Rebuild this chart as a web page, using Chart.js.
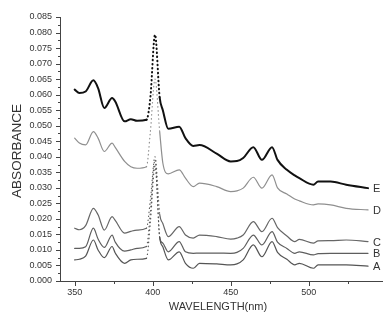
<!DOCTYPE html>
<html>
<head>
<meta charset="utf-8">
<script src="https://cdn.jsdelivr.net/npm/chart.js@4.4.1/dist/chart.umd.min.js"></script>
<style>
  html, body { margin: 0; padding: 0; background: #fff; }
  #wrap { width: 383px; height: 321px; }
</style>
</head>
<body>
<div id="wrap"><canvas id="absChart" width="383" height="321"></canvas></div>
<script>
// wavelengths (nm) shared by every spectrum
const wavelengths = [350, 353, 357, 362, 365, 369, 374, 376, 382, 386, 390, 396, 398.5, 401.5, 404.5, 406.5,
    410, 417, 421, 426, 430, 441, 450, 454, 458, 464.5, 470, 476.5, 480, 486, 491, 494, 503, 506, 514, 524, 538];

const seriesE = [0.0616, 0.0605, 0.0610, 0.0646, 0.0621, 0.0557, 0.0589, 0.0578, 0.0514, 0.0521, 0.0516, 0.0519, 0.0590, 0.0793, 0.0590, 0.0550,
    0.0490, 0.0497, 0.0460, 0.0435, 0.0438, 0.0410, 0.0385, 0.0386, 0.0396, 0.0431, 0.0390, 0.0431, 0.0390, 0.0358, 0.0340, 0.0331, 0.0310, 0.0320, 0.0320, 0.0310, 0.0299];
const seriesD = [0.0460, 0.0444, 0.0438, 0.0481, 0.0460, 0.0417, 0.0444, 0.0430, 0.0385, 0.0368, 0.0363, 0.0368, 0.0480, 0.0650, 0.0480, 0.0380,
    0.0345, 0.0358, 0.0331, 0.0304, 0.0315, 0.0304, 0.0288, 0.0290, 0.0299, 0.0334, 0.0299, 0.0342, 0.0300, 0.0280, 0.0264, 0.0258, 0.0245, 0.0248, 0.0245, 0.0234, 0.0229];
const seriesC = [0.0170, 0.0165, 0.0178, 0.0234, 0.0213, 0.0164, 0.0207, 0.0195, 0.0154, 0.0160, 0.0164, 0.0170, 0.0260, 0.0400, 0.0215, 0.0185,
    0.0143, 0.0175, 0.0148, 0.0138, 0.0148, 0.0143, 0.0135, 0.0138, 0.0148, 0.0191, 0.0159, 0.0202, 0.0172, 0.0145, 0.0127, 0.0134, 0.0122, 0.0129, 0.0130, 0.0132, 0.0127];
const seriesB = [0.0105, 0.0105, 0.0110, 0.0170, 0.0135, 0.0108, 0.0148, 0.0125, 0.0096, 0.0100, 0.0105, 0.0111, 0.0220, 0.0390, 0.0140, 0.0122,
    0.0094, 0.0127, 0.0094, 0.0089, 0.0090, 0.0090, 0.0089, 0.0092, 0.0105, 0.0148, 0.0116, 0.0159, 0.0125, 0.0105, 0.0089, 0.0094, 0.0084, 0.0088, 0.0089, 0.0089, 0.0089];
const seriesA = [0.0068, 0.0070, 0.0080, 0.0132, 0.0100, 0.0075, 0.0111, 0.0090, 0.0057, 0.0068, 0.0070, 0.0073, 0.0190, 0.0370, 0.0140, 0.0110,
    0.0068, 0.0094, 0.0057, 0.0041, 0.0057, 0.0055, 0.0052, 0.0055, 0.0068, 0.0116, 0.0078, 0.0127, 0.0092, 0.0070, 0.0052, 0.0057, 0.0041, 0.0052, 0.0052, 0.0052, 0.0048];

const seriesNames = ['A', 'B', 'C', 'D', 'E'];
const xTicks = [350, 375, 400, 425, 450, 475, 500, 525];
const peakSegments = [11, 12, 13]; // segments starting at these indices are the dotted peak sides

const FONT = 'Liberation Sans, Arial, sans-serif';

function pts(values) {
    return values.map((v, i) => ({ x: wavelengths[i], y: v }));
}

function peakDash(ctx) {
    return peakSegments.includes(ctx.p0DataIndex) ? [0.5, 3.5] : undefined;
}

function makeSet(name, values, color, width) {
    return {
        label: name,
        data: pts(values),
        borderColor: color,
        borderWidth: width,
        borderJoinStyle: 'round',
        borderCapStyle: 'round',
        pointRadius: 0,
        fill: false,
        cubicInterpolationMode: 'monotone',
        segment: { borderDash: peakDash }
    };
}

// minor ticks, curve letters, axis titles
const decorations = {
    id: 'decorations',
    afterDraw(chart) {
        const { ctx, chartArea, scales } = chart;
        const xs = scales.x, ys = scales.y;
        ctx.save();
        ctx.strokeStyle = '#444';
        ctx.lineWidth = 1;
        ctx.beginPath();
        xTicks.forEach(v => {
            const px = Math.round(xs.getPixelForValue(v)) + 0.5;
            const len = v % 50 === 0 ? 5 : 3;
            ctx.moveTo(px, chartArea.bottom);
            ctx.lineTo(px, chartArea.bottom + len);
        });
        for (let i = 0; i <= 34; i++) {
            const v = i * 0.0025;
            const py = Math.round(ys.getPixelForValue(v)) + 0.5;
            const len = i % 2 === 0 ? 4 : 2;
            ctx.moveTo(chartArea.left, py);
            ctx.lineTo(chartArea.left - len, py);
        }
        ctx.stroke();

        ctx.fillStyle = '#333';
        ctx.font = '11px ' + FONT;
        ctx.textBaseline = 'middle';
        ctx.textAlign = 'left';
        chart.data.datasets.forEach((ds, i) => {
            const meta = chart.getDatasetMeta(i);
            const last = meta.data[meta.data.length - 1];
            ctx.fillText(ds.label, last.x + 5, last.y + 1);
        });

        ctx.textAlign = 'center';
        ctx.fillText('WAVELENGTH(nm)', 218, 307);
        ctx.font = '13.5px ' + FONT;
        ctx.translate(17, 151);
        ctx.rotate(-Math.PI / 2);
        ctx.fillText('ABSORBANCE', 0, 0);
        ctx.restore();
    }
};

new Chart(document.getElementById('absChart'), {
    type: 'line',
    data: {
        datasets: [
            makeSet(seriesNames[0], seriesA, '#555', 1.2),
            makeSet(seriesNames[1], seriesB, '#5e5e5e', 1.2),
            makeSet(seriesNames[2], seriesC, '#666', 1.2),
            makeSet(seriesNames[3], seriesD, '#8f8f8f', 1.2),
            makeSet(seriesNames[4], seriesE, '#111', 2)
        ]
    },
    options: {
        responsive: false,
        animation: false,
        devicePixelRatio: 1,
        layout: { padding: { top: 17, right: 0, left: 0, bottom: 0 } },
        plugins: { legend: { display: false }, tooltip: { enabled: false } },
        scales: {
            x: {
                type: 'linear',
                min: 340.6,
                max: 547.6,
                afterBuildTicks: s => { s.ticks = xTicks.map(v => ({ value: v })); },
                afterFit: s => { s.height = 40; },
                grid: { display: false, drawTicks: false },
                border: { display: true, color: '#444', width: 1 },
                ticks: {
                    padding: 6,
                    maxRotation: 0,
                    autoSkip: false,
                    color: '#333',
                    font: { family: FONT, size: 9 },
                    callback: v => (v % 50 === 0 ? String(v) : '')
                }
            },
            y: {
                min: 0,
                max: 0.085,
                afterBuildTicks: s => {
                    const t = [];
                    for (let i = 0; i <= 17; i++) t.push({ value: +(i * 0.005).toFixed(3) });
                    s.ticks = t;
                },
                afterFit: s => { s.width = 60; },
                grid: { display: false, drawTicks: false },
                border: { display: true, color: '#444', width: 1 },
                ticks: {
                    padding: 8,
                    autoSkip: false,
                    color: '#333',
                    font: { family: FONT, size: 9 },
                    callback: v => v.toFixed(3)
                }
            }
        }
    },
    plugins: [decorations]
});
</script>
</body>
</html>
